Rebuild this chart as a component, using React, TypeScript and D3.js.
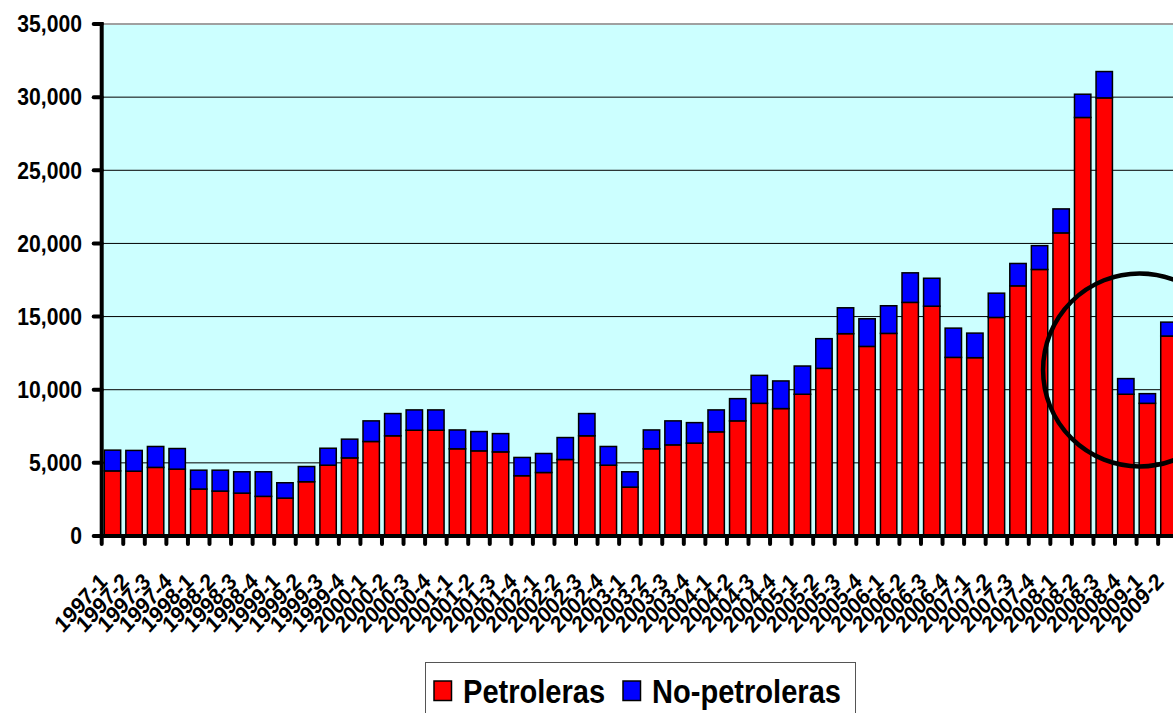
import React from "react";
import * as d3 from "d3";

const categories: string[] = [
  "1997-1","1997-2","1997-3","1997-4",
  "1998-1","1998-2","1998-3","1998-4",
  "1999-1","1999-2","1999-3","1999-4",
  "2000-1","2000-2","2000-3","2000-4",
  "2001-1","2001-2","2001-3","2001-4",
  "2002-1","2002-2","2002-3","2002-4",
  "2003-1","2003-2","2003-3","2003-4",
  "2004-1","2004-2","2004-3","2004-4",
  "2005-1","2005-2","2005-3","2005-4",
  "2006-1","2006-2","2006-3","2006-4",
  "2007-1","2007-2","2007-3","2007-4",
  "2008-1","2008-2","2008-3","2008-4",
  "2009-1","2009-2",
];

const petroleras: number[] = [
  4450, 4430, 4690, 4570,
  3210, 3070, 2930, 2710,
  2590, 3710, 4840, 5340,
  6460, 6850, 7230, 7230,
  5960, 5820, 5750, 4120,
  4340, 5230, 6850, 4840,
  3340, 5960, 6230, 6350,
  7120, 7870, 9070, 8710,
  9690, 11460, 13830, 12960,
  13850, 15970, 15710, 12210,
  12190, 14940, 17100, 18220,
  20720, 28610, 29950, 9690,
  9070, 13670,
];

const noPetroleras: number[] = [
  1420, 1420, 1430, 1410,
  1290, 1430, 1460, 1680,
  1050, 1040, 1160, 1280,
  1410, 1520, 1390, 1390,
  1290, 1320, 1250, 1250,
  1300, 1500, 1520, 1280,
  1050, 1290, 1640, 1400,
  1500, 1520, 1910, 1890,
  1930, 2030, 1770, 1890,
  1890, 2020, 1910, 2000,
  1680, 1660, 1530, 1630,
  1640, 1590, 1800, 1070,
  660, 950,
];

const yTicks: number[] = [0, 5000, 10000, 15000, 20000, 25000, 30000, 35000];
const seriesNames: string[] = ["Petroleras", "No-petroleras"];
const seriesColors: string[] = ["#FF0000", "#0000FF"];

// annotation circle (around the 2008-4 / 2009-1 drop)
const circleCategory = "2009-1";
const circleValue = 11350;

const W = 1173;
const H = 713;
const FONT = "'Liberation Sans', Arial, sans-serif";

export default function App() {
  const left = 101.7;
  const right = 1179.7;
  const top = 24;
  const bottom = 536;

  const x = d3
    .scaleBand<string>()
    .domain(categories)
    .range([left, right])
    .paddingInner(0.24)
    .paddingOuter(0.12);
  const y = d3.scaleLinear().domain([0, 35000]).range([bottom, top]);
  const fmt = d3.format(",");
  const step = x.step();
  const bw = x.bandwidth();

  const rows = categories.map((c, i) => ({
    cat: c,
    Petroleras: petroleras[i],
    "No-petroleras": noPetroleras[i],
  }));
  const stacked = d3.stack<any>().keys(seriesNames)(rows);

  const boundaries = categories.map((c) => (x(c) as number) + bw / 2 - step / 2);
  boundaries.push((x(categories[categories.length - 1]) as number) + bw / 2 + step / 2);

  const cx = (x(circleCategory) as number) + bw / 2 - step / 2 + 3;
  const cy = y(circleValue);

  return (
    <svg
      width={W}
      height={H}
      style={{ position: "absolute", left: 0, top: 0, background: "#fff" }}
      fontFamily={FONT}
    >
      {/* plot background */}
      <rect x={left} y={top} width={right - left} height={bottom - top} fill="#CCFFFF" />
      {/* gridlines */}
      {yTicks
        .filter((t) => t > 0 && t < 35000)
        .map((t) => (
          <line key={"g" + t} x1={left} x2={right} y1={y(t)} y2={y(t)} stroke="#000" strokeWidth={1} />
        ))}
      <line x1={left} x2={right} y1={y(35000)} y2={y(35000)} stroke="#A0A0A0" strokeWidth={2} />

      {/* bars */}
      {stacked.map((s, si) => (
        <g key={s.key}>
          {s.map((d: any, i: number) => (
            <rect
              key={i}
              x={x(categories[i]) as number}
              y={y(d[1])}
              width={bw}
              height={y(d[0]) - y(d[1])}
              fill={seriesColors[si]}
              stroke="#000"
              strokeWidth={1.5}
            />
          ))}
        </g>
      ))}

      {/* axes */}
      <line x1={left} x2={left} y1={top - 2} y2={bottom + 2} stroke="#000" strokeWidth={4} />
      <line x1={left - 8} x2={right} y1={bottom} y2={bottom} stroke="#000" strokeWidth={4} />
      {yTicks.map((t) => (
        <line key={"yt" + t} x1={left - 8} x2={left} y1={y(t)} y2={y(t)} stroke="#000" strokeWidth={4} strokeLinecap="round" />
      ))}
      {boundaries.map((bx, i) => (
        <line key={"xt" + i} x1={bx} x2={bx} y1={bottom} y2={bottom + 8} stroke="#000" strokeWidth={4} strokeLinecap="round" />
      ))}

      {/* y labels */}
      {yTicks.map((t) => (
        <text
          key={"yl" + t}
          transform={`translate(82,${y(t)}) scale(0.92,1)`}
          textAnchor="end"
          dy="0.36em"
          fontSize={23}
          fontWeight="bold"
          fill="#000"
        >
          {fmt(t)}
        </text>
      ))}

      {/* x labels */}
      {categories.map((c) => (
        <text
          key={"xl" + c}
          transform={`translate(${(x(c) as number) + bw / 2 - 4},583) scale(0.9,1) rotate(-45)`}
          textAnchor="end"
          fontSize={23}
          fontWeight="bold"
          fill="#000"
        >
          {c}
        </text>
      ))}

      {/* annotation circle */}
      <circle cx={cx} cy={cy} r={96.5} fill="none" stroke="#000" strokeWidth={4.5} />

      {/* legend */}
      <rect x={425.5} y={662.5} width={430} height={70} fill="#fff" stroke="#555" strokeWidth={1} />
      <rect x={434} y={681} width={17.5} height={19.5} fill={seriesColors[0]} stroke="#000" strokeWidth={1.5} />
      <text transform="translate(463,703) scale(0.855,1)" fontSize={34} fontWeight="bold" fill="#000">
        {seriesNames[0]}
      </text>
      <rect x={623} y={681} width={17.5} height={19.5} fill={seriesColors[1]} stroke="#000" strokeWidth={1.5} />
      <text transform="translate(652,703) scale(0.855,1)" fontSize={34} fontWeight="bold" fill="#000">
        {seriesNames[1]}
      </text>
    </svg>
  );
}
